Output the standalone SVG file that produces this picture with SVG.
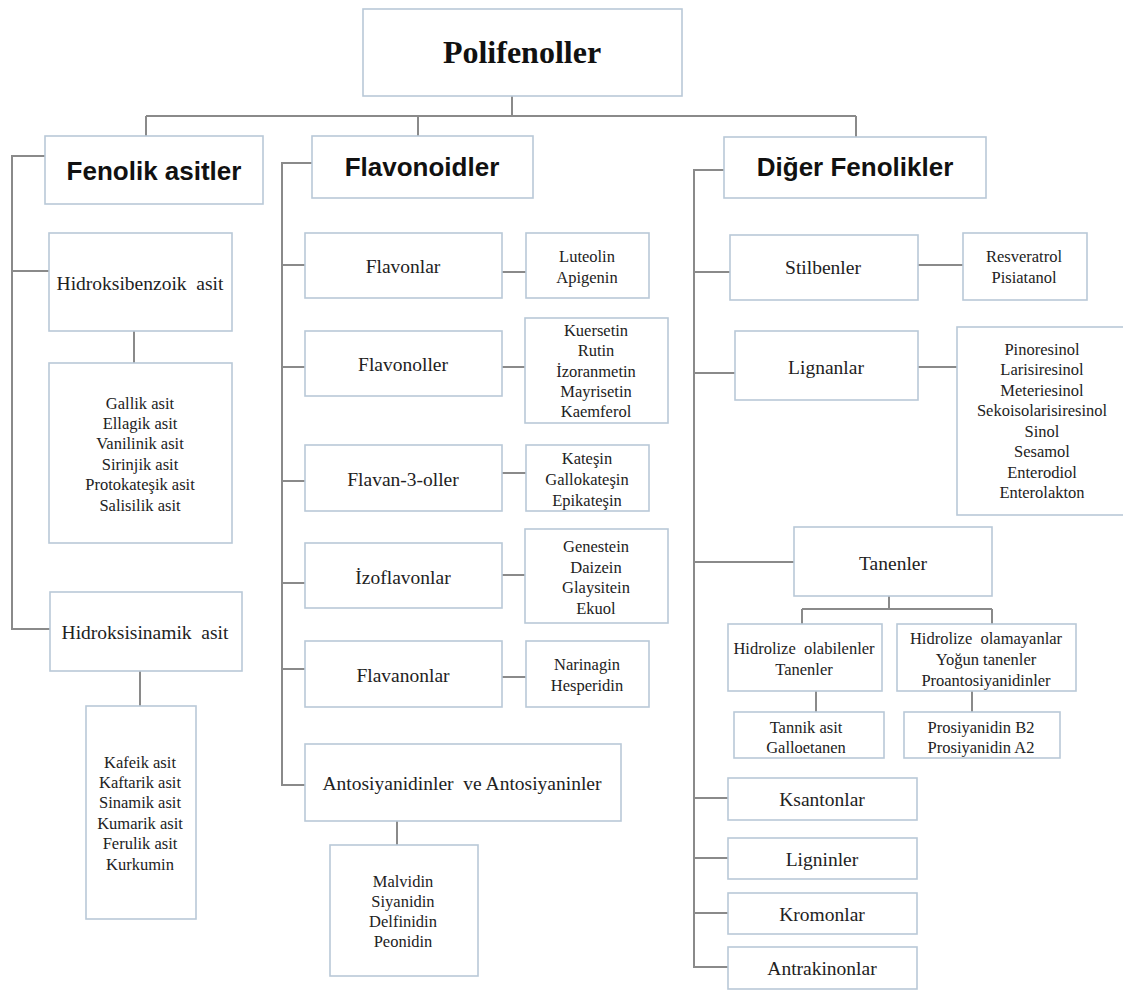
<svg xmlns="http://www.w3.org/2000/svg" width="1123" height="990" viewBox="0 0 1123 990">
<style>
.b{fill:#fff;stroke:#b9c9d8;stroke-width:1.6}
.c{fill:none;stroke:#8a8a8a;stroke-width:2}
.h{font-family:"Liberation Sans",Arial,sans-serif;font-weight:bold;font-size:26px;fill:#111;text-anchor:middle}
.r{font-family:"Liberation Serif","Times New Roman",serif;font-weight:bold;font-size:32px;fill:#111;text-anchor:middle}
.m{font-family:"Liberation Serif","Times New Roman",serif;font-size:19.5px;fill:#222;text-anchor:middle;white-space:pre}
.s{font-family:"Liberation Serif","Times New Roman",serif;font-size:16.5px;fill:#222;text-anchor:middle;white-space:pre}
</style>
<rect width="1123" height="990" fill="#fff"/>
<g id="connectors" class="c">
<path d="M512 96V116M146 116H856M146 116V136M418 116V136M856 116V137"/>
<path d="M45 156H12V629H50M12 271H49M134 331V363M140 671V706"/>
<path d="M312 163H282V785H305M282 265H305M282 367H305M282 481H305M282 583H305M282 669H305"/>
<path d="M502 272H526M502 367H525M502 473H526M502 575H525M502 677H526M397 821V845"/>
<path d="M724 170H694V967H728M694 272H730M694 373H735M694 562H794M694 798H728M694 858H728M694 913H728"/>
<path d="M918 265H963M918 367H957M889 596V609M802 609H992M802 609V624M992 609V624M816 691V712M972 691V712"/>
</g>
<g id="polifenoller"><rect class="b" x="363" y="9" width="319" height="87"/><text class="r" x="522" y="63">Polifenoller</text></g>
<g id="fenolik"><rect class="b" x="45" y="136" width="218" height="68"/><text class="h" x="154" y="180">Fenolik asitler</text></g>
<g id="flavonoidler"><rect class="b" x="312" y="136" width="221" height="62"/><text class="h" x="422" y="176">Flavonoidler</text></g>
<g id="diger"><rect class="b" x="724" y="137" width="262" height="61"/><text class="h" x="855" y="176">Diğer Fenolikler</text></g>
<g id="hbenz"><rect class="b" x="49" y="233" width="183" height="98"/><text class="m" x="140" y="289.5" xml:space="preserve">Hidroksibenzoik  asit</text></g>
<g id="gallik"><rect class="b" x="49" y="363" width="183" height="180"/>
<text class="s" x="140" y="408.5">Gallik asit</text><text class="s" x="140" y="428.9">Ellagik asit</text><text class="s" x="140" y="449.3">Vanilinik asit</text><text class="s" x="140" y="469.7">Sirinjik asit</text><text class="s" x="140" y="490.1">Protokateşik asit</text><text class="s" x="140" y="510.5">Salisilik asit</text></g>
<g id="hsin"><rect class="b" x="50" y="592" width="192" height="79"/><text class="m" x="145" y="638.5" xml:space="preserve">Hidroksisinamik  asit</text></g>
<g id="kafeik"><rect class="b" x="86" y="706" width="110" height="213"/>
<text class="s" x="140" y="767.5">Kafeik asit</text><text class="s" x="140" y="787.9">Kaftarik asit</text><text class="s" x="140" y="808.3">Sinamik asit</text><text class="s" x="140" y="828.7">Kumarik asit</text><text class="s" x="140" y="849.1">Ferulik asit</text><text class="s" x="140" y="869.5">Kurkumin</text></g>
<g id="flavonlar"><rect class="b" x="305" y="233" width="197" height="65"/><text class="m" x="403" y="272.5">Flavonlar</text></g>
<g id="luteolin"><rect class="b" x="526" y="233" width="123" height="65"/><text class="s" x="587" y="261.5">Luteolin</text><text class="s" x="587" y="282.5">Apigenin</text></g>
<g id="flavonoller"><rect class="b" x="305" y="331" width="197" height="65"/><text class="m" x="403" y="370.5">Flavonoller</text></g>
<g id="kuersetin"><rect class="b" x="525" y="318" width="143" height="105"/>
<text class="s" x="596" y="336.2">Kuersetin</text><text class="s" x="596" y="356.4">Rutin</text><text class="s" x="596" y="376.6">İzoranmetin</text><text class="s" x="596" y="396.8">Mayrisetin</text><text class="s" x="596" y="417">Kaemferol</text></g>
<g id="flavan3"><rect class="b" x="305" y="445" width="197" height="66"/><text class="m" x="403" y="485.5">Flavan-3-oller</text></g>
<g id="katesin"><rect class="b" x="526" y="445" width="123" height="66"/><text class="s" x="587" y="463.5">Kateşin</text><text class="s" x="587" y="484.5">Gallokateşin</text><text class="s" x="587" y="505.5">Epikateşin</text></g>
<g id="izoflavonlar"><rect class="b" x="305" y="543" width="197" height="65"/><text class="m" x="403" y="583.5">İzoflavonlar</text></g>
<g id="genestein"><rect class="b" x="525" y="529" width="143" height="94"/>
<text class="s" x="596" y="552.2">Genestein</text><text class="s" x="596" y="572.8">Daizein</text><text class="s" x="596" y="593.2">Glaysitein</text><text class="s" x="596" y="613.8">Ekuol</text></g>
<g id="flavanonlar"><rect class="b" x="305" y="641" width="197" height="66"/><text class="m" x="403" y="681.5">Flavanonlar</text></g>
<g id="naringin"><rect class="b" x="526" y="641" width="123" height="66"/><text class="s" x="587" y="669.5">Narinagin</text><text class="s" x="587" y="690.5">Hesperidin</text></g>
<g id="antosiyanidinler"><rect class="b" x="305" y="744" width="316" height="77"/><text class="m" x="462" y="789.5" xml:space="preserve">Antosiyanidinler  ve Antosiyaninler</text></g>
<g id="malvidin"><rect class="b" x="330" y="845" width="148" height="131"/>
<text class="s" x="403" y="886.5">Malvidin</text><text class="s" x="403" y="906.5">Siyanidin</text><text class="s" x="403" y="926.5">Delfinidin</text><text class="s" x="403" y="946.5">Peonidin</text></g>
<g id="stilbenler"><rect class="b" x="730" y="235" width="188" height="65"/><text class="m" x="823" y="273.5">Stilbenler</text></g>
<g id="resveratrol"><rect class="b" x="963" y="233" width="124" height="67"/><text class="s" x="1024" y="261.5">Resveratrol</text><text class="s" x="1024" y="282.5">Pisiatanol</text></g>
<g id="lignanlar"><rect class="b" x="735" y="331" width="183" height="69"/><text class="m" x="826" y="373.5">Lignanlar</text></g>
<g id="pinoresinol"><rect class="b" x="957" y="327" width="172" height="188"/>
<text class="s" x="1042" y="354.8">Pinoresinol</text><text class="s" x="1042" y="375.3">Larisiresinol</text><text class="s" x="1042" y="395.8">Meteriesinol</text><text class="s" x="1042" y="416.3">Sekoisolarisiresinol</text><text class="s" x="1042" y="436.8">Sinol</text><text class="s" x="1042" y="457.3">Sesamol</text><text class="s" x="1042" y="477.8">Enterodiol</text><text class="s" x="1042" y="498.3">Enterolakton</text></g>
<g id="tanenler"><rect class="b" x="794" y="527" width="198" height="69"/><text class="m" x="893" y="569.5">Tanenler</text></g>
<g id="hidrolize1"><rect class="b" x="728" y="624" width="154" height="67"/><text class="s" x="804" y="653.5" xml:space="preserve">Hidrolize  olabilenler</text><text class="s" x="804" y="674.5">Tanenler</text></g>
<g id="hidrolize2"><rect class="b" x="897" y="624" width="179" height="67"/><text class="s" x="986" y="643.5" xml:space="preserve">Hidrolize  olamayanlar</text><text class="s" x="986" y="664.5">Yoğun tanenler</text><text class="s" x="986" y="685.5">Proantosiyanidinler</text></g>
<g id="tannik"><rect class="b" x="734" y="712" width="150" height="46"/><text class="s" x="806" y="732.5">Tannik asit</text><text class="s" x="806" y="752.5">Galloetanen</text></g>
<g id="prosiyanidin"><rect class="b" x="904" y="712" width="156" height="46"/><text class="s" x="981" y="732.5">Prosiyanidin B2</text><text class="s" x="981" y="752.5">Prosiyanidin A2</text></g>
<g id="ksantonlar"><rect class="b" x="728" y="778" width="189" height="42"/><text class="m" x="822" y="805.5">Ksantonlar</text></g>
<g id="ligninler"><rect class="b" x="728" y="838" width="189" height="41"/><text class="m" x="822" y="865.5">Ligninler</text></g>
<g id="kromonlar"><rect class="b" x="728" y="893" width="189" height="41"/><text class="m" x="822" y="920.5">Kromonlar</text></g>
<g id="antrakinonlar"><rect class="b" x="728" y="947" width="189" height="42"/><text class="m" x="822" y="974.5">Antrakinonlar</text></g>
</svg>
